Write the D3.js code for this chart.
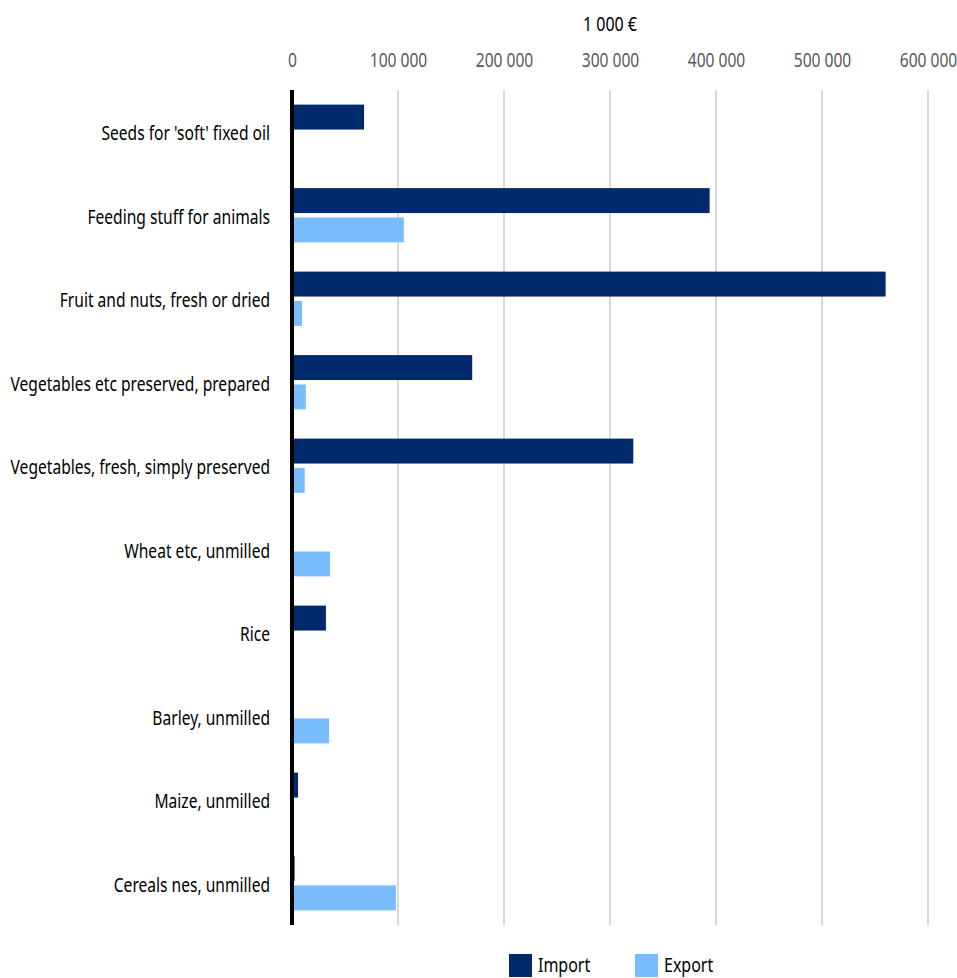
<!DOCTYPE html>
<html>
<head>
<meta charset="utf-8">
<script src="https://cdn.jsdelivr.net/npm/d3@7"></script>
<style>
  body { margin: 0; background: #fff; }
  svg text { font-family: "Noto Sans", "Open Sans", sans-serif; }
</style>
</head>
<body>
<svg id="chart" width="957" height="978"></svg>
<script>
// categories top to bottom
const categories = [
    "Seeds for 'soft' fixed oil",
    "Feeding stuff for animals",
    "Fruit and nuts, fresh or dried",
    "Vegetables etc preserved, prepared",
    "Vegetables, fresh, simply preserved",
    "Wheat etc, unmilled",
    "Rice",
    "Barley, unmilled",
    "Maize, unmilled",
    "Cereals nes, unmilled"
];
// values in 1 000 €
const importValues = [68000, 394000, 560000, 170000, 322000, 0, 32000, 0, 5700, 2500];
const exportValues = [0, 105500, 9500, 13000, 12000, 36000, 0, 35000, 0, 98000];
const seriesNames  = ['Import', 'Export'];
const xTicks       = [0, 100000, 200000, 300000, 400000, 500000, 600000];
const unitLabel    = '1 000 €';

const colors = {Import: '#002a6c', Export: '#7abdff'};

// no condensed face installed: squeeze the glyphs horizontally
const squeeze = 0.78;

const margin = {top: 90, left: 292, right: 29, bottom: 53};
const width  = 957 - margin.left - margin.right;
const height = 978 - margin.top - margin.bottom;

const svg = d3.select('#chart');
const base = svg.append('g').attr('transform', `translate(${margin.left}, ${margin.top})`);

const x = d3.scaleLinear().domain([0, 600000]).range([0, width]);
const y = d3.scaleBand().domain(categories).range([0, height]).paddingInner(0.35).paddingOuter(0.175);
const y1 = d3.scaleBand().domain(seriesNames).range([0, y.bandwidth()]).paddingInner(0.15);

const fmt = v => d3.format(',')(v).replace(/,/g, ' ');

// gridlines
base.selectAll('.grid')
    .data(xTicks.slice(1))
    .enter()
    .append('line')
    .attr('class', 'grid')
    .attr('x1', d => x(d)).attr('x2', d => x(d))
    .attr('y1', 0).attr('y2', height)
    .attr('stroke', '#d9d9d9')
    .attr('stroke-width', 2);

// top axis labels
base.append('g')
    .call(d3.axisTop(x).tickValues(xTicks).tickFormat(fmt).tickSize(0).tickPadding(23))
    .call(g => g.select('.domain').remove())
    .selectAll('text')
    .attr('fill', '#595959')
    .attr('font-size', 20)
    .attr('transform', `scale(${squeeze},1)`);

svg.append('text')
    .attr('transform', `translate(${margin.left + x(300000)}, 31) scale(${squeeze},1)`)
    .attr('text-anchor', 'middle')
    .attr('font-size', 20.5)
    .attr('fill', '#000')
    .text(unitLabel);

// bars
const rows = categories.map((c, i) => ({category: c, values: [
    {key: 'Import', value: importValues[i]},
    {key: 'Export', value: exportValues[i]}
]}));

base.selectAll('.row')
    .data(rows)
    .enter()
    .append('g')
    .attr('class', 'row')
    .attr('transform', d => `translate(0, ${y(d.category)})`)
    .selectAll('rect')
    .data(d => d.values.filter(v => v.value > 0))
    .enter()
    .append('rect')
    .attr('x', x(0))
    .attr('y', d => y1(d.key))
    .attr('width', d => x(d.value) - x(0))
    .attr('height', y1.bandwidth())
    .attr('fill', d => colors[d.key]);

// category labels
base.append('g')
    .call(d3.axisLeft(y).tickSize(0).tickPadding(22))
    .call(g => g.select('.domain').remove())
    .selectAll('text')
    .attr('fill', '#000')
    .attr('font-size', 20)
    .attr('dy', '0.42em')
    .attr('x', -22 / squeeze)
    .attr('transform', `scale(${squeeze},1)`);

// vertical axis line
base.append('line')
    .attr('x1', x(0)).attr('x2', x(0))
    .attr('y1', 0).attr('y2', height)
    .attr('stroke', '#000')
    .attr('stroke-width', 4);

// legend
const legend = svg.append('g').attr('transform', 'translate(509, 954)');
const item = legend.selectAll('.item')
    .data(seriesNames)
    .enter()
    .append('g')
    .attr('transform', (d, i) => `translate(${i * 126}, 0)`);
item.append('rect').attr('width', 23).attr('height', 23).attr('fill', d => colors[d]);
item.append('text')
    .attr('transform', `translate(29, 17.5) scale(${squeeze},1)`)
    .attr('font-size', 20.5)
    .attr('fill', '#000')
    .text(d => d);
</script>
</body>
</html>
